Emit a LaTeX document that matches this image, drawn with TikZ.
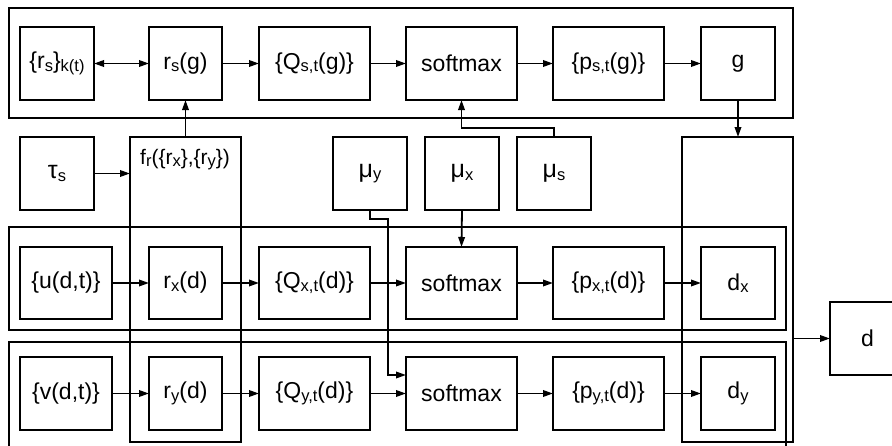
\documentclass[tikz,border=0pt]{standalone}
\usepackage{fontspec}
\setmainfont{Liberation Sans}
\usetikzlibrary{arrows.meta}
\newcommand\sbs[1]{\raisebox{-0.2ex}{\fontsize{16.5}{16.5}\selectfont #1}}
\newcommand\gk[1]{{\fontsize{25}{25}\selectfont #1}}
\begin{document}
\begin{tikzpicture}[x=1pt,y=-1pt, line width=1.8pt,
 box/.style={draw, rectangle, inner sep=0pt, outer sep=0pt, font=\fontsize{23}{23}\selectfont},
 grp/.style={draw, rectangle, inner sep=0pt, outer sep=0pt},
 arr/.style={-{Triangle[length=10pt,width=6.5pt]}},
 darr/.style={{Triangle[length=10pt,width=6.5pt]}-{Triangle[length=10pt,width=6.5pt]}},
 sq/.style={box, minimum width=74, minimum height=73},
 wide/.style={box, minimum width=111, minimum height=73},
]
\useasboundingbox (0,0) rectangle (892,445);
\clip (0,0) rectangle (892,445);
% group boxes
\node[grp, minimum width=784, minimum height=110] (topgrp) at (401,63) {};
\node[grp, minimum width=777, minimum height=103] (rowx) at (397.5,278.5) {};
\node[grp, minimum width=777, minimum height=118] (rowy) at (397.5,401) {};
\node[grp, minimum width=111, minimum height=305] (fr) at (185.5,289.5) {};
\node[grp, minimum width=111, minimum height=305] (rc) at (737.5,289.5) {};
\node[anchor=base west, font=\fontsize{21}{21}\selectfont] (frlabel) at (136,164) {f\sbs{r}(\{r\sbs{x}\},\{r\sbs{y}\})};
% top row
\node[sq] (rk) at (57,63.5) {\{r\sbs{s}\}\sbs{k(t)}};
\node[sq, minimum width=73] (rsg) at (185.5,63.5) {r\sbs{s}(g)};
\node[wide] (qs) at (314.5,63.5) {\{Q\sbs{s,t}(g)\}};
\node[wide] (sms) at (461.5,63.5) {softmax};
\node[wide] (ps) at (608.5,63.5) {\{p\sbs{s,t}(g)\}};
\node[sq] (g) at (738,63.5) {g};
% second row
\node[sq] (tau) at (57,173.5) {\gk{τ}\sbs{s}};
\node[sq] (muy) at (370,173.5) {\gk{μ}\sbs{y}};
\node[sq] (mux) at (462,173.5) {\gk{μ}\sbs{x}};
\node[sq] (mus) at (554,173.5) {\gk{μ}\sbs{s}};
% row x
\node[box, minimum width=92, minimum height=72] (u) at (66,283) {\{u(d,t)\}};
\node[sq, minimum width=73, minimum height=72] (rx) at (185.5,283) {r\sbs{x}(d)};
\node[wide, minimum height=72] (qx) at (314.5,283) {\{Q\sbs{x,t}(d)\}};
\node[wide, minimum height=72] (smx) at (461.5,283) {softmax};
\node[wide, minimum height=72] (px) at (608.5,283) {\{p\sbs{x,t}(d)\}};
\node[sq, minimum height=72] (dx) at (738,283) {d\sbs{x}};
% row y
\node[box, minimum width=92, minimum height=73] (v) at (66,393.5) {\{v(d,t)\}};
\node[sq, minimum width=73] (ry) at (185.5,393.5) {r\sbs{y}(d)};
\node[wide] (qy) at (314.5,393.5) {\{Q\sbs{y,t}(d)\}};
\node[wide] (smy) at (461.5,393.5) {softmax};
\node[wide] (py) at (608.5,393.5) {\{p\sbs{y,t}(d)\}};
\node[sq] (dy) at (738,393.5) {d\sbs{y}};
% output
\node[box, minimum width=75, minimum height=73] (d) at (867.5,338.5) {d};
% connectors
\draw[darr] (rk) -- (rsg);
\draw[arr] (rsg) -- (qs);
\draw[arr] (qs) -- (sms);
\draw[arr] (sms) -- (ps);
\draw[arr] (ps) -- (g);
\draw[arr] (g.south) -- (g.south |- rc.north);
\draw[arr] (fr.north) -- (rsg.south);
\draw[arr] (tau.east) -- (tau.east -| fr.west);
\coordinate (sa) at (554,128);
\draw[arr] (mus.north) -- (sa) -- (sms.south |- sa) -- (sms.south);
\draw[arr] (mux.south) -- (smx.north);
\coordinate (ya) at (370,219);
\coordinate (yb) at (388,219);
\coordinate (yc) at (388,375);
\draw[arr] (muy.south) -- (ya) -- (yb) -- (yc) -- (smy.west |- yc);
\draw[arr] (u) -- (rx);
\draw[arr] (rx) -- (qx);
\draw[arr] (qx) -- (smx);
\draw[arr] (smx) -- (px);
\draw[arr] (px) -- (dx);
\draw[arr] (v) -- (ry);
\draw[arr] (ry) -- (qy);
\draw[arr] (qy) -- (smy);
\draw[arr] (smy) -- (py);
\draw[arr] (py) -- (dy);
\draw[arr] (rc.east |- d.west) -- (d.west);
\end{tikzpicture}
\end{document}
